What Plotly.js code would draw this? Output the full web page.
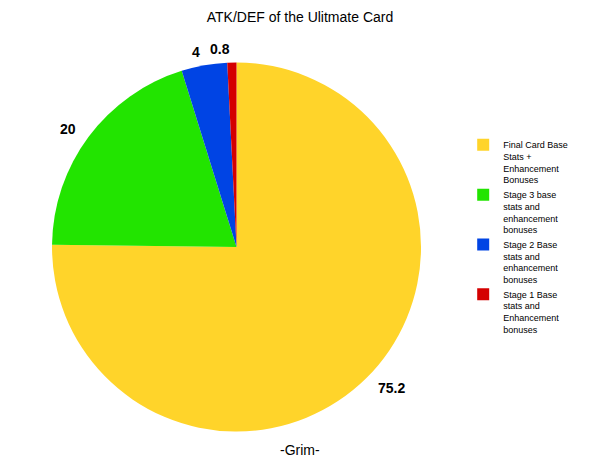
<!DOCTYPE html>
<html>
<head>
<meta charset="utf-8">
<script src="https://cdn.plot.ly/plotly-3.0.1.min.js"></script>
<style>
  body { margin: 0; }
  #chart { width: 600px; height: 463px; }
</style>
</head>
<body>
<div id="chart"></div>
<script>
// slices, clockwise from 12 o'clock
var labels = [
  "Final Card Base<br>Stats +<br>Enhancement<br>Bonuses",
  "Stage 3 base<br>stats and<br>enhancement<br>bonuses",
  "Stage 2 Base<br>stats and<br>enhancement<br>bonuses",
  "Stage 1 Base<br>stats and<br>Enhancement<br>bonuses"
];
var values = [75.2, 20, 4, 0.8];
var colors = ["#ffd42a", "#22e400", "#0044e4", "#d40000"];

var W = 600, H = 463;
var dom = { x: [0.0867, 0.7017], y: [0.067, 0.866] };

var data = [{
  type: "pie",
  values: values,
  labels: labels,
  sort: false,
  direction: "clockwise",
  rotation: 0,
  marker: { colors: colors, line: { width: 0 } },
  textinfo: "none",
  hoverinfo: "label+value",
  domain: dom
}];

// value labels just outside the rim, at each slice's mid angle
var cx = (dom.x[0] + dom.x[1]) / 2 * W;
var cy = (1 - (dom.y[0] + dom.y[1]) / 2) * H;
var labR = 198;
var total = values.reduce(function (a, b) { return a + b; }, 0);
var annotations = [];
var cum = 0;
for (var i = 0; i < values.length; i++) {
  var mid = (cum + values[i] / 2) / total * 2 * Math.PI;
  cum += values[i];
  var px = cx + labR * Math.sin(mid);
  var py = cy - labR * Math.cos(mid);
  annotations.push({
    text: "<b>" + values[i] + "</b>",
    xref: "paper", yref: "paper",
    x: px / W, y: 1 - py / H,
    xanchor: Math.sin(mid) < 0 ? "right" : "left",
    yanchor: "middle",
    showarrow: false,
    font: { size: 14 }
  });
}
annotations.push({
  text: "-Grim-",
  xref: "paper", yref: "paper",
  x: 0.5, y: 0.028,
  xanchor: "center", yanchor: "middle",
  showarrow: false,
  font: { size: 14 }
});

var layout = {
  width: W,
  height: H,
  margin: { t: 0, b: 0, l: 0, r: 0 },
  font: { family: "Arial, 'Liberation Sans', sans-serif", color: "#000" },
  title: {
    text: "ATK/DEF of the Ulitmate Card",
    font: { size: 14 },
    x: 0.5, xanchor: "center",
    y: 0.962, yanchor: "middle"
  },
  showlegend: true,
  legend: {
    x: 0.772, xanchor: "left",
    y: 0.487, yanchor: "middle",
    font: { size: 9 },
    valign: "top",
    itemwidth: 30,
    tracegroupgap: 0
  },
  annotations: annotations
};

Plotly.newPlot("chart", data, layout, { displayModeBar: false });
</script>
</body>
</html>
